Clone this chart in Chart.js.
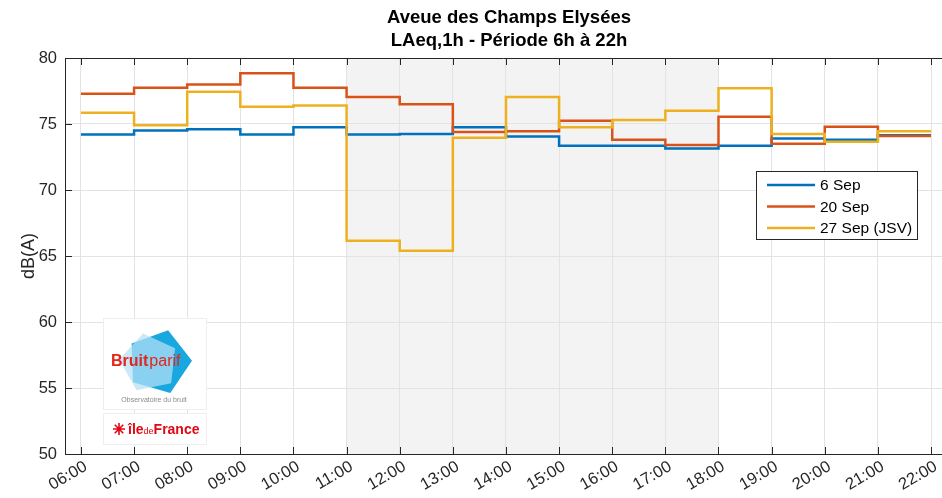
<!DOCTYPE html>
<html>
<head>
<meta charset="utf-8">
<script src="https://cdn.jsdelivr.net/npm/chart.js@4.4.0/dist/chart.umd.min.js"></script>
<style>
  html, body { margin: 0; padding: 0; background: #fff; }
</style>
</head>
<body>
<canvas id="chart" width="942" height="498"></canvas>
<script>
// hourly steps, 06:00 -> 22:00
const hours = [6, 7, 8, 9, 10, 11, 12, 13, 14, 15, 16, 17, 18, 19, 20, 21, 22];
const hourLabels = ['06:00', '07:00', '08:00', '09:00', '10:00', '11:00', '12:00', '13:00', '14:00',
  '15:00', '16:00', '17:00', '18:00', '19:00', '20:00', '21:00', '22:00'];
const seriesNames = ['6 Sep', '20 Sep', '27 Sep (JSV)'];
// LAeq,1h for each hour starting at hours[i]
const sep6 = [74.2, 74.5, 74.6, 74.2, 74.75, 74.2, 74.25, 74.75, 74.05, 73.35, 73.35, 73.15, 73.35, 73.9, 73.8, 74.15];
const sep20 = [77.3, 77.75, 78.0, 78.85, 77.75, 77.05, 76.5, 74.4, 74.45, 75.25, 73.8, 73.4, 75.55, 73.5, 74.8, 74.1];
const sep27 = [75.85, 74.9, 77.45, 76.3, 76.4, 66.15, 65.4, 73.95, 77.05, 74.75, 75.3, 76.0, 77.7, 74.25, 73.65, 74.45];
const yTicks = [50, 55, 60, 65, 70, 75, 80];
const shadedPeriod = [11, 18];

const colors = ['#0072BD', '#D95319', '#EDB120'];
const axisColor = '#262626';
const font = '"Liberation Sans", Arial, sans-serif';

// stairs: each value holds until the next hour, last one repeated at 22:00
const stairs = vals => hours.map((h, i) => ({ x: h, y: vals[Math.min(i, vals.length - 1)] }));

const makeSet = (i, vals) => ({
  label: seriesNames[i],
  data: stairs(vals),
  borderColor: colors[i],
  backgroundColor: colors[i],
  borderWidth: 2.5,
  stepped: 'before',
  pointRadius: 0,
  fill: false,
  order: 2 - i
});

// the axes box runs past the right edge of the picture, so centre the title on it
const titleShift = {
  id: 'titleShift',
  afterLayout(chart) {
    const t = chart.titleBlock;
    t.left = chart.chartArea.left;
    t.right = chart.chartArea.right + 11;
  }
};

const shadePlugin = {
  id: 'shade',
  beforeDraw(chart) {
    const { ctx, chartArea, scales } = chart;
    const x0 = scales.x.getPixelForValue(shadedPeriod[0]);
    const x1 = scales.x.getPixelForValue(shadedPeriod[1]);
    ctx.save();
    ctx.fillStyle = '#f3f3f3';
    ctx.fillRect(x0, chartArea.top, x1 - x0, chartArea.bottom - chartArea.top);
    ctx.restore();
  }
};

const boxPlugin = {
  id: 'box',
  afterDatasetsDraw(chart) {
    const { ctx, chartArea, scales } = chart;
    ctx.save();
    ctx.strokeStyle = axisColor;
    ctx.lineWidth = 1;
    ctx.beginPath();
    ctx.moveTo(chartArea.left, chartArea.top + 0.5);
    ctx.lineTo(chartArea.right, chartArea.top + 0.5);
    hours.forEach(h => {
      const x = Math.round(scales.x.getPixelForValue(h)) + 0.5;
      ctx.moveTo(x, chartArea.bottom);
      ctx.lineTo(x, chartArea.bottom - 7);
      ctx.moveTo(x, chartArea.top);
      ctx.lineTo(x, chartArea.top + 7);
    });
    yTicks.forEach(v => {
      const y = Math.round(scales.y.getPixelForValue(v)) + 0.5;
      ctx.moveTo(chartArea.left, y);
      ctx.lineTo(chartArea.left + 7, y);
    });
    ctx.stroke();
    ctx.restore();
  }
};

const legendPlugin = {
  id: 'boxLegend',
  afterDraw(chart) {
    const { ctx } = chart;
    const x = 756, y = 171, w = 161, h = 68;
    ctx.save();
    ctx.fillStyle = '#fff';
    ctx.fillRect(x, y, w, h);
    ctx.strokeStyle = axisColor;
    ctx.lineWidth = 1;
    ctx.strokeRect(x + 0.5, y + 0.5, w, h);
    ctx.font = '15.5px ' + font;
    ctx.textBaseline = 'middle';
    chart.data.datasets.forEach((ds, i) => {
      const ly = y + 14 + i * 21.5;
      ctx.strokeStyle = ds.borderColor;
      ctx.lineWidth = 2.5;
      ctx.beginPath();
      ctx.moveTo(x + 11, ly);
      ctx.lineTo(x + 59, ly);
      ctx.stroke();
      ctx.fillStyle = '#000';
      ctx.fillText(ds.label, x + 64, ly + 1);
    });
    ctx.restore();
  }
};

function pentagon(ctx, cx, cy, r, rot) {
  ctx.beginPath();
  for (let k = 0; k < 5; k++) {
    const a = rot + k * 2 * Math.PI / 5 - Math.PI / 2;
    const px = cx + r * Math.cos(a), py = cy + r * Math.sin(a);
    if (k === 0) ctx.moveTo(px, py); else ctx.lineTo(px, py);
  }
  ctx.closePath();
}

const logoPlugin = {
  id: 'logo',
  afterDraw(chart) {
    const { ctx } = chart;
    ctx.save();
    ctx.fillStyle = '#fff';
    ctx.strokeStyle = '#eeeeee';
    ctx.lineWidth = 1;
    ctx.fillRect(103, 318, 103, 91);
    ctx.strokeRect(103.5, 318.5, 103, 91);
    ctx.fillRect(103, 413, 103, 31);
    ctx.strokeRect(103.5, 413.5, 103, 31);

    ctx.fillStyle = '#19a7e0';
    pentagon(ctx, 159, 362, 33, 0.28);
    ctx.fill();
    ctx.fillStyle = 'rgba(180, 225, 246, 0.72)';
    pentagon(ctx, 149, 363, 30, -0.2);
    ctx.fill();

    ctx.textBaseline = 'alphabetic';
    ctx.fillStyle = '#e3261b';
    ctx.font = 'bold 16px ' + font;
    ctx.fillText('Bruit', 111, 366);
    const bw = ctx.measureText('Bruit').width;
    ctx.font = '16px ' + font;
    ctx.fillText('parif', 111 + bw + 1, 366);

    ctx.fillStyle = '#8a8a8a';
    ctx.font = '7px ' + font;
    ctx.textAlign = 'center';
    ctx.fillText('Observatoire du bruit', 154, 402);

    // île de France mark
    ctx.textAlign = 'left';
    ctx.strokeStyle = '#e30613';
    ctx.lineWidth = 1.6;
    ctx.beginPath();
    for (let k = 0; k < 8; k++) {
      const a = k * Math.PI / 4;
      ctx.moveTo(119, 429);
      ctx.lineTo(119 + 6 * Math.cos(a), 429 + 6 * Math.sin(a));
    }
    ctx.stroke();
    ctx.fillStyle = '#e30613';
    ctx.font = 'bold 14px ' + font;
    ctx.fillText('île', 128, 434);
    let cx = 128 + ctx.measureText('île').width;
    ctx.font = '9px ' + font;
    ctx.fillText('de', cx, 434);
    cx += ctx.measureText('de').width;
    ctx.font = 'bold 14px ' + font;
    ctx.fillText('France', cx, 434);
    ctx.restore();
  }
};

new Chart(document.getElementById('chart'), {
  type: 'line',
  data: {
    datasets: [makeSet(0, sep6), makeSet(1, sep20), makeSet(2, sep27)]
  },
  options: {
    responsive: false,
    animation: false,
    layout: { padding: 0 },
    plugins: {
      legend: { display: false },
      tooltip: { enabled: false },
      title: {
        display: true,
        text: ['Aveue des Champs Elysées', 'LAeq,1h - Période 6h à 22h'],
        color: '#000',
        font: { family: font, size: 18.5, weight: 'bold', lineHeight: '23.5px' },
        padding: { top: 6, bottom: 5 }
      }
    },
    scales: {
      x: {
        type: 'linear',
        min: 5.7,
        max: 22.207,
        afterBuildTicks: scale => { scale.ticks = hours.map(h => ({ value: h })); },
        afterFit: scale => { scale.height = 44; scale.paddingLeft = 0; scale.paddingRight = 0; },
        ticks: {
          autoSkip: false,
          minRotation: 30,
          maxRotation: 30,
          padding: 3,
          labelOffset: 5,
          color: axisColor,
          font: { family: font, size: 16.5 },
          callback: v => hourLabels[hours.indexOf(v)]
        },
        grid: { color: '#e3e3e3', lineWidth: 1, drawTicks: false },
        border: { display: true, color: axisColor, width: 1 }
      },
      y: {
        min: 50,
        max: 80,
        afterBuildTicks: scale => { scale.ticks = yTicks.map(v => ({ value: v })); },
        afterFit: scale => { scale.width = 65; },
        ticks: {
          padding: 8,
          color: axisColor,
          font: { family: font, size: 16.5 }
        },
        grid: { color: '#e3e3e3', lineWidth: 1, drawTicks: false },
        border: { display: true, color: axisColor, width: 1 },
        title: {
          display: true,
          text: 'dB(A)',
          color: axisColor,
          font: { family: font, size: 18 },
          padding: { top: 18, bottom: 0 }
        }
      }
    }
  },
  plugins: [titleShift, shadePlugin, boxPlugin, legendPlugin, logoPlugin]
});
</script>
</body>
</html>
